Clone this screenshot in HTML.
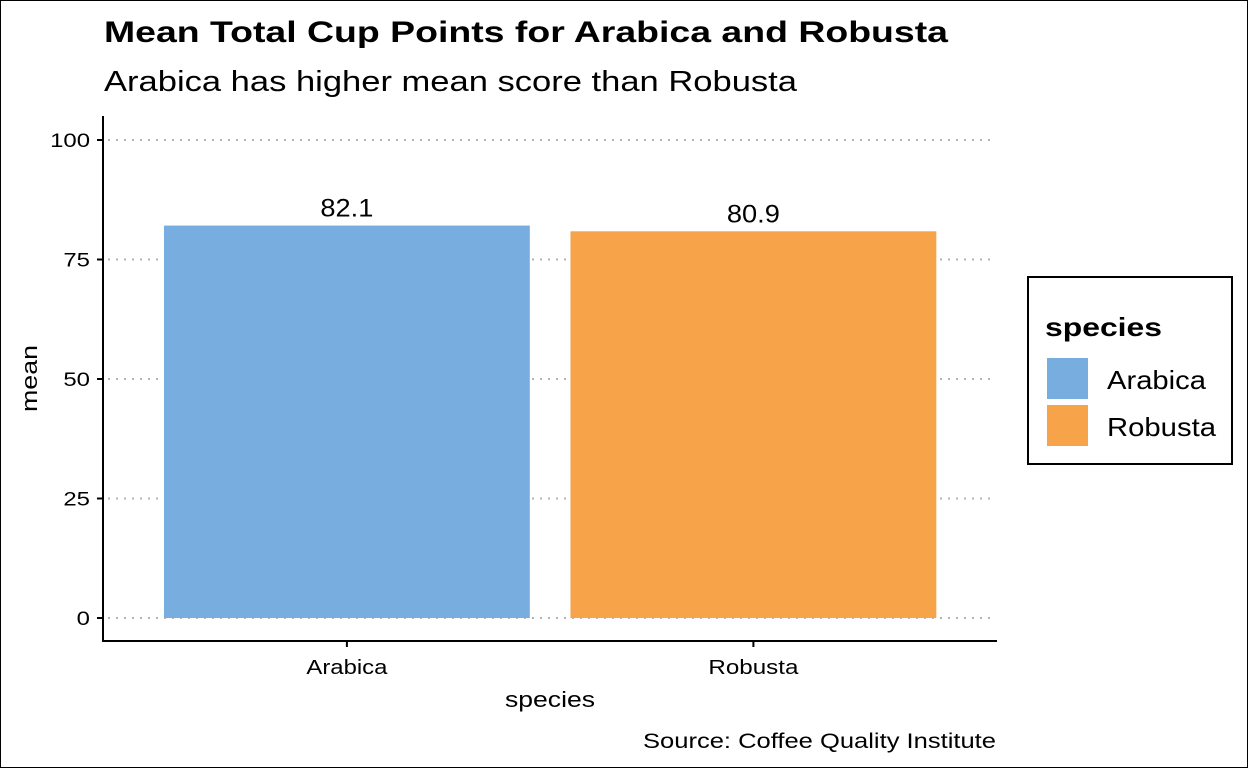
<!DOCTYPE html>
<html><head><meta charset="utf-8"><style>
html,body{margin:0;padding:0;background:#fff;}
svg{display:block;font-family:"Liberation Sans",Arial,sans-serif;}
</style></head><body>
<svg id="chart" width="1248" height="768" viewBox="0 0 1248 768">
<rect x="0.5" y="0.5" width="1247" height="767" fill="#fff" stroke="#000"/>
<text x="104" y="42" font-size="30" font-weight="bold" textLength="844" lengthAdjust="spacingAndGlyphs">Mean Total Cup Points for Arabica and Robusta</text>
<text x="104" y="91" font-size="29" textLength="693" lengthAdjust="spacingAndGlyphs">Arabica has higher mean score than Robusta</text>
<g id="grid"></g>
<g id="bars"></g>
<g id="axes"></g>
<text x="505" y="707" font-size="22" textLength="90" lengthAdjust="spacingAndGlyphs">species</text>
<text transform="translate(37,412) rotate(-90)" font-size="22" textLength="67" lengthAdjust="spacingAndGlyphs">mean</text>
<text x="643" y="748" font-size="21" textLength="353" lengthAdjust="spacingAndGlyphs">Source: Coffee Quality Institute</text>
<g>
<rect x="1028" y="277" width="204" height="187" fill="#fff" stroke="#000" stroke-width="2"/>
<text x="1045" y="336" font-size="26" font-weight="bold" textLength="117" lengthAdjust="spacingAndGlyphs">species</text>
<g id="legend-items"></g>
</g>
</svg>
<script>
const categories = ["Arabica", "Robusta"];
const means = [82.1, 80.9];
const valueLabels = ["82.1", "80.9"];
const yTicks = [0, 25, 50, 75, 100];
const colors = ["#78ADDF", "#F6A34A"];

const NS = "http://www.w3.org/2000/svg";
const x0 = 103, band = 406.5;
function xCenter(i){ return x0 + band*(0.6 + i); }
function yScale(v){ return 618 - v*4.78; }
function mk(tag, attrs, parent, text){
  const e = document.createElementNS(NS, tag);
  for (const k in attrs) e.setAttribute(k, attrs[k]);
  if (text !== undefined) e.textContent = text;
  parent.appendChild(e); return e;
}
const grid = document.getElementById("grid");
const axes = document.getElementById("axes");
const bars = document.getElementById("bars");
yTicks.forEach(t => {
  const y = yScale(t);
  const g = mk("line", {x1:108, x2:992, y1:y, y2:y, stroke:"#b3b3b3", "stroke-width":2, "stroke-dasharray":"2 6"}, grid);
  
  
  const tk = mk("line", {x1:97, x2:103, y1:y, y2:y, stroke:"#000", "stroke-width":2}, axes);
  
  
  const s = String(t);
  const lb = mk("text", {x:90, y:y+7, "font-size":19, "text-anchor":"end", textLength:13.3*s.length, lengthAdjust:"spacingAndGlyphs"}, axes, s);
  
  
});
const bw = band*0.9;
const xLabW = [81, 90];
const legW = [99, 109];
categories.forEach((c, i) => {
  const cx = xCenter(i), y = yScale(means[i]);
  const r = mk("rect", {x:cx-bw/2, y:y, width:bw, height:yScale(0)-y, fill:colors[i]}, bars);
  
  
  const vl = mk("text", {x:cx, y:y-9, "font-size":25, "text-anchor":"middle", textLength:53, lengthAdjust:"spacingAndGlyphs"}, bars, valueLabels[i]);
  
  
  const tk = mk("line", {x1:cx, x2:cx, y1:641, y2:647, stroke:"#000", "stroke-width":2}, axes);
  
  
  const xl = mk("text", {x:cx, y:674, "font-size":20, "text-anchor":"middle", textLength:xLabW[i], lengthAdjust:"spacingAndGlyphs"}, axes, c);
  
  
  const li = document.getElementById("legend-items");
  const key = mk("rect", {x:1047, y:358 + i*47, width:41, height:41, fill:colors[i]}, li);
  
  
  const lt = mk("text", {x:1107, y:389 + i*47, "font-size":26, textLength:legW[i], lengthAdjust:"spacingAndGlyphs"}, li, c);
  
  
});
const ya = mk("line", {x1:103, x2:103, y1:116, y2:642, stroke:"#000", "stroke-width":2}, axes);


const xa = mk("line", {x1:102, x2:997, y1:641, y2:641, stroke:"#000", "stroke-width":2}, axes);


</script>
</body></html>
